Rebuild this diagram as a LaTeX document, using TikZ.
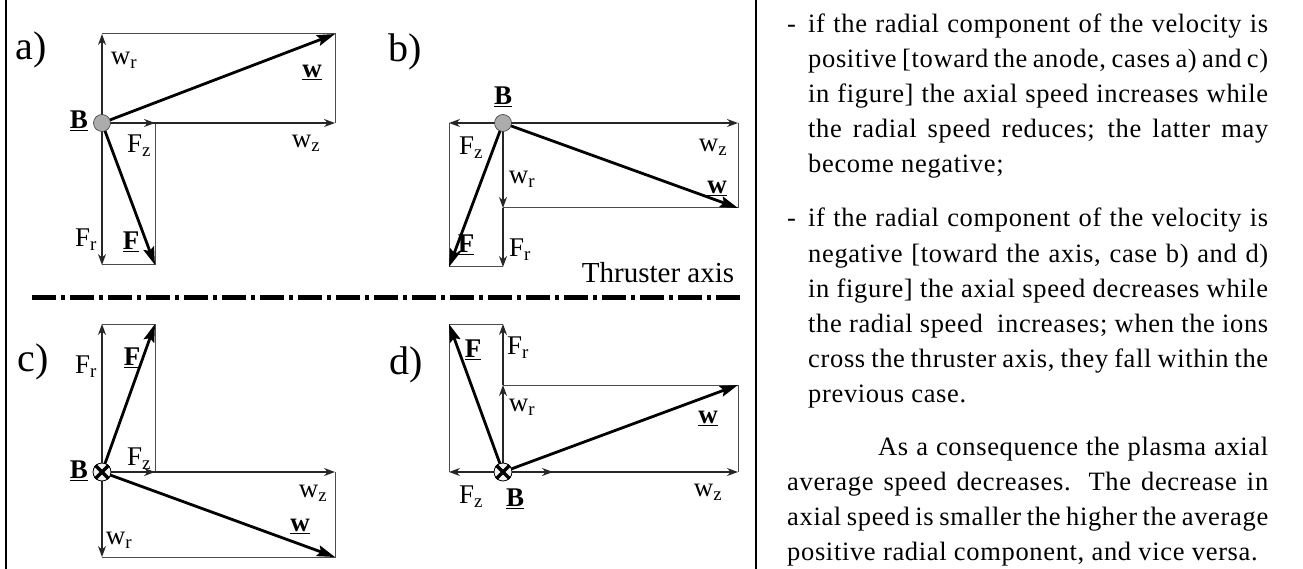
\documentclass[tikz,border=0pt]{standalone}
\usepackage{fontspec}
\setmainfont{Liberation Serif}
\newfontfamily\txtfont[LetterSpace=2.5]{Liberation Serif}
\usetikzlibrary{arrows.meta}
\newcommand\jline[2][460pt]{\makebox[#1][s]{#2}}
\begin{document}
\begin{tikzpicture}[x=1pt,y=-1pt,
  frm/.style={line width=1pt, draw=black!70},
  comp/.style={line width=1.1pt, draw=black!85, -{Stealth[length=11pt,width=8pt]}},
  vec/.style={line width=2.8pt, -{Stealth[length=18pt,width=11pt,inset=3pt]}},
  lbl/.style={font=\fontsize{27}{30}\selectfont, inner sep=0pt},
  plab/.style={font=\fontsize{40}{42}\selectfont, inner sep=0pt},
  dotB/.style={circle, fill=gray!65, draw=gray!45!black, line width=0.6pt, minimum size=17pt, inner sep=0pt},
  crossB/.style={circle, fill=gray!10, draw=black, line width=0.8pt, minimum size=18pt, inner sep=0pt},
  xmark/.style={line width=3.4pt},
  axisline/.style={line width=5pt, dash pattern=on 24pt off 5pt on 4pt off 5pt},
  sep/.style={line width=1.4pt},
  txt/.style={anchor=base west, inner sep=0pt, font=\txtfont\fontsize{26.5}{35}\selectfont}]
\useasboundingbox (0,0) rectangle (1303,569);
\newcommand\bu[1]{\underline{\textbf{#1}}}
% separators
\coordinate (s1t) at (6,0); \coordinate (s1b) at (6,569);
\coordinate (s2t) at (756,0); \coordinate (s2b) at (756,569);
\draw[sep] (s1t) -- (s1b);
\draw[sep] (s2t) -- (s2b);
% axis
\coordinate (ax1) at (32,297); \coordinate (ax2) at (742,297);
\draw[axisline] (ax1) -- (ax2);
\node[font=\fontsize{29}{30}\selectfont, inner sep=0pt, anchor=base] (thr) at (658,283) {Thruster axis};

% ---------- panel a
\coordinate (Oa) at (102,123);
\coordinate (awr) at (102,34); \coordinate (aw) at (335,34); \coordinate (awz) at (335,123);
\coordinate (afz) at (155,123); \coordinate (afr) at (102,265); \coordinate (af) at (155,265);
\draw[frm] (awr) -- (aw) -- (awz);
\draw[frm] (afz) -- (af) -- (afr);
\draw[comp] (Oa) -- (awr);
\draw[comp] (Oa) -- (awz);
\draw[comp] (Oa) -- (afz);
\draw[comp] (Oa) -- (afr);
\draw[vec] (Oa) -- (aw);
\draw[vec] (Oa) -- (af);
\node[dotB] (Ba) at (Oa) {};
\node[plab] (la) at (31,50) {a)};
\node[lbl] (awrl) at (124,60) {w\textsubscript{r}};
\node[lbl] (awl) at (312,72) {\bu{w}};
\node[lbl] (aBl) at (79,121) {\bu{B}};
\node[lbl] (afzl) at (139,146) {F\textsubscript{z}};
\node[lbl] (awzl) at (306,143) {w\textsubscript{z}};
\node[lbl] (afrl) at (86,240) {F\textsubscript{r}};
\node[lbl] (afl) at (131,242) {\bu{F}};

% ---------- panel b
\coordinate (Ob) at (503,123);
\coordinate (bfz) at (449,123); \coordinate (bwz) at (738,123);
\coordinate (bwr) at (503,208); \coordinate (bw) at (738,208);
\coordinate (bfr) at (503,267); \coordinate (bf) at (449,267);
\draw[frm] (bwz) -- (bw) -- (bwr);
\draw[frm] (bfz) -- (bf) -- (bfr);
\draw[comp] (Ob) -- (bfz);
\draw[comp] (Ob) -- (bwz);
\draw[comp] (Ob) -- (bwr);
\draw[comp] (bwr) -- (bfr);
\draw[vec] (Ob) -- (bw);
\draw[vec] (Ob) -- (bf);
\node[dotB] (Bb) at (Ob) {};
\node[plab] (lb) at (405,52) {b)};
\node[lbl] (bBl) at (503,97) {\bu{B}};
\node[lbl] (bfzl) at (471,148) {F\textsubscript{z}};
\node[lbl] (bwzl) at (713,147) {w\textsubscript{z}};
\node[lbl] (bwrl) at (522,179) {w\textsubscript{r}};
\node[lbl] (bwl) at (717,188) {\bu{w}};
\node[lbl] (bfl) at (466,245) {\bu{F}};
\node[lbl] (bfrl) at (520,250) {F\textsubscript{r}};

% ---------- panel c
\coordinate (Oc) at (102,472);
\coordinate (cfr) at (102,324); \coordinate (cf) at (155,324); \coordinate (cfz) at (155,472);
\coordinate (cwz) at (335,472); \coordinate (cwr) at (102,557); \coordinate (cw) at (335,557);
\draw[frm] (cfr) -- (cf) -- (cfz);
\draw[frm] (cwz) -- (cw) -- (cwr);
\draw[comp] (Oc) -- (cfr);
\draw[comp] (Oc) -- (cwz);
\draw[comp] (Oc) -- (cfz);
\draw[comp] (Oc) -- (cwr);
\draw[vec] (Oc) -- (cf);
\draw[vec] (Oc) -- (cw);
\node[crossB] (Bc) at (Oc) {};
\draw[xmark] (Bc.north west) -- (Bc.south east);
\draw[xmark] (Bc.north east) -- (Bc.south west);
\node[plab] (lc) at (33,362) {c)};
\node[lbl] (cfrl) at (86,367) {F\textsubscript{r}};
\node[lbl] (cfl) at (132,358) {\bu{F}};
\node[lbl] (cfzl) at (139,459) {F\textsubscript{z}};
\node[lbl] (cBl) at (79,471) {\bu{B}};
\node[lbl] (cwzl) at (313,493) {w\textsubscript{z}};
\node[lbl] (cwl) at (300,526) {\bu{w}};
\node[lbl] (cwrl) at (119,540) {w\textsubscript{r}};

% ---------- panel d
\coordinate (Od) at (503,472);
\coordinate (dfz) at (449,472); \coordinate (dmid) at (553,472); \coordinate (dwz) at (738,472);
\coordinate (dwr) at (503,385); \coordinate (dw) at (738,385);
\coordinate (dfr) at (503,324); \coordinate (df) at (449,324);
\draw[frm] (dfr) -- (df) -- (dfz);
\draw[frm] (dwr) -- (dw) -- (dwz);
\draw[comp] (Od) -- (dfz);
\draw[comp] (Od) -- (dwz);
\draw[comp] (Od) -- (dmid);
\draw[comp] (Od) -- (dwr);
\draw[comp] (dwr) -- (dfr);
\draw[vec] (Od) -- (dw);
\draw[vec] (Od) -- (df);
\node[crossB] (Bd) at (Od) {};
\draw[xmark] (Bd.north west) -- (Bd.south east);
\draw[xmark] (Bd.north east) -- (Bd.south west);
\node[plab] (ld) at (406,365) {d)};
\node[lbl] (dfl) at (473,350) {\bu{F}};
\node[lbl] (dfrl) at (518,348) {F\textsubscript{r}};
\node[lbl] (dwrl) at (522,407) {w\textsubscript{r}};
\node[lbl] (dwl) at (708,418) {\bu{w}};
\node[lbl] (dfzl) at (471,497) {F\textsubscript{z}};
\node[lbl] (dBl) at (515,499) {\bu{B}};
\node[lbl] (dwzl) at (708,492) {w\textsubscript{z}};

% ---------- text column
\node[txt] (d1) at (787,33) {-};
\node[txt] (t1) at (808,33) {\jline{if the radial component of the velocity is}};
\node[txt] (t2) at (808,68) {\jline{positive [toward the anode, cases a) and c)}};
\node[txt] (t3) at (808,103) {\jline{in figure] the axial speed increases while}};
\node[txt] (t4) at (808,138) {\jline{the radial speed reduces; the latter may}};
\node[txt] (t5) at (808,173) {become negative;};
\node[txt] (d2) at (787,227) {-};
\node[txt] (t6) at (808,227) {\jline{if the radial component of the velocity is}};
\node[txt] (t7) at (808,262) {\jline{negative [toward the axis, case b) and d)}};
\node[txt] (t8) at (808,297) {\jline{in figure] the axial speed decreases while}};
\node[txt] (t9) at (808,332) {\jline{the radial speed \ increases; when the ions}};
\node[txt] (t10) at (808,367) {\jline{cross the thruster axis, they fall within the}};
\node[txt] (t11) at (808,402) {previous case.};
\node[txt] (p1) at (878,455) {\jline[390pt]{As a consequence the plasma axial}};
\node[txt] (p2) at (787,490) {\jline[481pt]{average speed decreases. The decrease in}};
\node[txt] (p3) at (787,525) {\jline[481pt]{axial speed is smaller the higher the average}};
\node[txt] (p4) at (787,560) {positive radial component, and vice versa.};
\end{tikzpicture}
\end{document}
